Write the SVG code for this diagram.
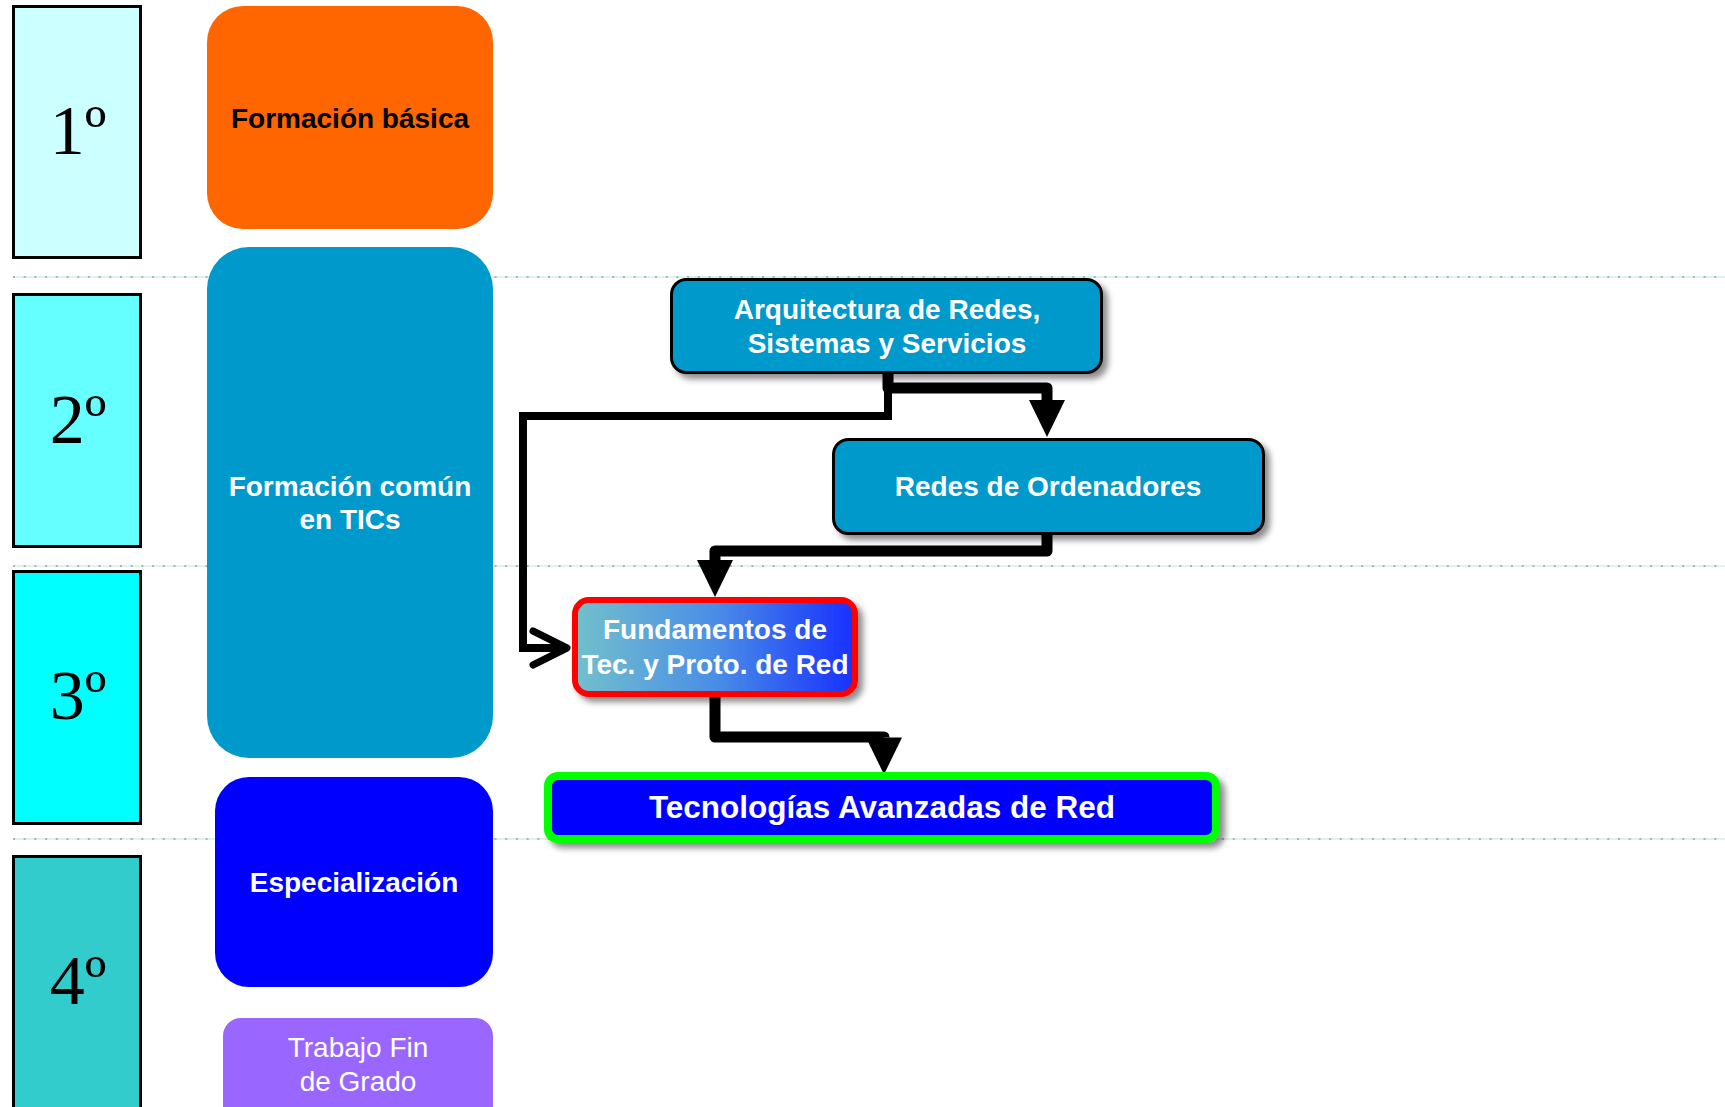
<svg xmlns="http://www.w3.org/2000/svg" width="1725" height="1107" viewBox="0 0 1725 1107">
  <style>
    .year rect { stroke: #000; stroke-width: 3; }
    .year text { font-family: "Liberation Serif", "Times New Roman", serif; font-size: 70px; fill: #000; text-anchor: middle; }
    .block text { font-family: "Liberation Sans", Arial, sans-serif; font-size: 28px; font-weight: bold; fill: #fff; text-anchor: middle; }
    .course text { font-family: "Liberation Sans", Arial, sans-serif; font-size: 28px; font-weight: bold; fill: #fff; text-anchor: middle; }
    .sep-base { stroke: #d6ecec; stroke-width: 1.5; }
    .sep-dots { stroke: #a9b4b4; stroke-width: 2; stroke-dasharray: 2 8.7; }
    .flow-thick { fill: none; stroke: #000; stroke-width: 11; stroke-linejoin: round; }
    .flow-thin { fill: none; stroke: #000; stroke-width: 8; stroke-linejoin: miter; }
  </style>
  <defs>
    <linearGradient id="fundGrad" x1="0" y1="0" x2="1" y2="0">
      <stop offset="0" stop-color="#72c0cc"/>
      <stop offset="0.5" stop-color="#4a8ee6"/>
      <stop offset="1" stop-color="#1830ff"/>
    </linearGradient>
    <filter id="shadow" x="-10%" y="-20%" width="125%" height="150%">
      <feDropShadow dx="5" dy="5" stdDeviation="3" flood-color="#000" flood-opacity="0.45"/>
    </filter>
    <marker id="tri" markerUnits="userSpaceOnUse" markerWidth="37" markerHeight="36" refX="0" refY="18" orient="auto" overflow="visible">
      <path d="M0,0 L37,18 L0,36 Z" fill="#000"/>
    </marker>
    <marker id="chevron" markerUnits="userSpaceOnUse" markerWidth="40" markerHeight="40" refX="34" refY="17" orient="auto" overflow="visible">
      <path d="M0,0 L34,17 L0,34" fill="none" stroke="#000" stroke-width="7" stroke-linecap="round" stroke-linejoin="round"/>
    </marker>
  </defs>

  <rect width="1725" height="1107" fill="#fff"/>

  <!-- year separators -->
  <g id="separators">
    <line class="sep-base" x1="13" y1="277" x2="1725" y2="277"/>
    <line class="sep-dots" x1="13" y1="277" x2="1725" y2="277"/>
    <line class="sep-base" x1="13" y1="566" x2="1725" y2="566"/>
    <line class="sep-dots" x1="13" y1="566" x2="1725" y2="566"/>
    <line class="sep-base" x1="13" y1="839" x2="1725" y2="839"/>
    <line class="sep-dots" x1="13" y1="839" x2="1725" y2="839"/>
  </g>

  <!-- year column -->
  <g id="year1" class="year">
    <rect x="13.5" y="6.5" width="127" height="251" fill="#ccffff"/>
    <text x="78" y="154">1º</text>
  </g>
  <g id="year2" class="year">
    <rect x="13.5" y="294.5" width="127" height="252" fill="#66ffff"/>
    <text x="78" y="443">2º</text>
  </g>
  <g id="year3" class="year">
    <rect x="13.5" y="571.5" width="127" height="252" fill="#00ffff"/>
    <text x="78" y="719">3º</text>
  </g>
  <g id="year4" class="year">
    <rect x="13.5" y="856.5" width="127" height="290" fill="#33cccc"/>
    <text x="78" y="1004">4º</text>
  </g>

  <!-- study blocks -->
  <g id="basica" class="block">
    <rect x="207" y="6" width="286" height="223" rx="36" fill="#ff6600"/>
    <text x="350" y="128" style="fill:#000">Formación básica</text>
  </g>
  <g id="comun" class="block">
    <rect x="207" y="247" width="286" height="511" rx="42" fill="#0099cc"/>
    <text x="350" y="496">Formación común</text>
    <text x="350" y="529">en TICs</text>
  </g>
  <g id="especializacion" class="block">
    <rect x="215" y="777" width="278" height="210" rx="34" fill="#0000ff"/>
    <text x="354" y="892">Especialización</text>
  </g>
  <g id="tfg" class="block">
    <rect x="223" y="1018" width="270" height="120" rx="18" fill="#9966ff"/>
    <text x="358" y="1057" style="font-weight:normal">Trabajo Fin</text>
    <text x="358" y="1091" style="font-weight:normal">de Grado</text>
  </g>

  <!-- connectors -->
  <g id="connectors">
    <path class="flow-thin" d="M888,380 V416 H523 V648 H567" marker-end="url(#chevron)"/>
    <path class="flow-thick" d="M888,374 V388 H1047 V400" marker-end="url(#tri)"/>
    <path class="flow-thick" d="M1047,534 V551 H715 V560" marker-end="url(#tri)"/>
    <path class="flow-thick" d="M715,697 V737 H884 V737.5" marker-end="url(#tri)"/>
  </g>

  <!-- courses -->
  <g id="arquitectura" class="course">
    <rect x="671.5" y="279.5" width="430" height="93" rx="15" fill="#0099cc" stroke="#000" stroke-width="3" filter="url(#shadow)"/>
    <text x="887" y="319">Arquitectura de Redes,</text>
    <text x="887" y="353">Sistemas y Servicios</text>
  </g>
  <g id="redes" class="course">
    <rect x="833.5" y="439.5" width="430" height="94" rx="15" fill="#0099cc" stroke="#000" stroke-width="3" filter="url(#shadow)"/>
    <text x="1048" y="496">Redes de Ordenadores</text>
  </g>
  <g id="fundamentos" class="course">
    <rect x="575" y="600" width="280" height="94" rx="14" fill="url(#fundGrad)" stroke="#ff0000" stroke-width="6" filter="url(#shadow)"/>
    <text x="715" y="639">Fundamentos de</text>
    <text x="715" y="674">Tec. y Proto. de Red</text>
  </g>
  <g id="avanzadas" class="course">
    <rect x="548" y="776" width="668" height="63" rx="10" fill="#0000ff" stroke="#00ff00" stroke-width="8" filter="url(#shadow)"/>
    <text x="882" y="818" style="font-size:31.5px">Tecnologías Avanzadas de Red</text>
  </g>
</svg>
